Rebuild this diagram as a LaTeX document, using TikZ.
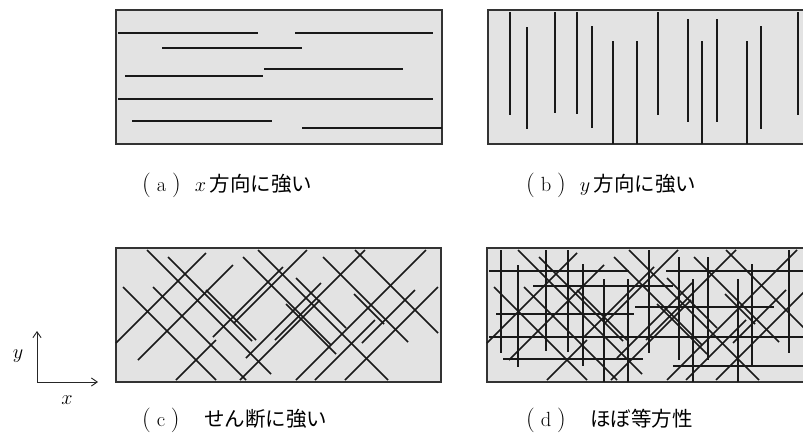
\documentclass[tikz,border=0pt]{standalone}
\usepackage{fontspec}
\newfontfamily\jpfont{Noto Sans CJK JP}
\usetikzlibrary{arrows.meta}

\tikzset{
  panel/.style={draw=black!80, line width=1.3pt, fill=black!11},
  fibre/.style={black!90, line width=1.25pt},
  axis/.style={black!85, line width=0.8pt, -{Straight Barb[length=5pt,width=7pt]}},
  caption/.style={anchor=west, inner sep=0pt, font=\fontsize{17.5}{21}\selectfont},
}
\newcommand{\paren}[1]{{\fontsize{21}{24}\selectfont(}\hspace{5pt}#1\hspace{5pt}{\fontsize{21}{24}\selectfont)}}

\begin{document}
\begin{tikzpicture}[x=0.03cm, y=-0.03cm]
  \useasboundingbox (0,0) rectangle (803,441);

  % Fibre sets, offsets from the top left corner of a panel
  \def\hfib{2/23/142, 179/23/317, 46/38/186, 148/59/287, 9/66/147, 2/89/317, 16/111/156, 186/118/326}
  \def\vfib{22/2/105, 39/17/119, 67/2/103, 89/2/104, 104/16/118, 125/31/134, 149/31/134,
    170/2/105, 200/9/112, 214/31/134, 229/9/112, 259/31/134, 273/16/119, 310/2/105}
  \def\dfib{31/2/124, 52/9/84, 7/39/93, 37/39/93, 90/42/50, 127/9/88, 142/2/130,
    180/30/50, 207/9/85, 239/2/83, 170/56/50, 238/46/30}
  \def\ufib{0/95/90, 22/112/95, 97/89/70, 124/132/80, 130/110/75, 159/92/90, 180/132/130,
    229/132/93, 246/95/53, 199/132/60, 118/75/73, 60/132/40}

  % (a) fibres along x
  \begin{scope}[shift={(116,10)}]
    \draw[panel] (0,0) rectangle (326,134);
    \foreach \xa/\ya/\xb in \hfib
      \draw[fibre] (\xa,\ya) -- (\xb,\ya);
  \end{scope}

  % (b) fibres along y
  \begin{scope}[shift={(488,10)}]
    \draw[panel] (0,0) rectangle (326,134);
    \foreach \xa/\ya/\yb in \vfib
      \draw[fibre] (\xa,\ya) -- (\xa,\yb);
  \end{scope}

  % (c) fibres at +-45 degrees
  \begin{scope}[shift={(116,248)}]
    \draw[panel] (0,0) rectangle (325,134);
    \foreach \xa/\ya/\len in \dfib
      \draw[fibre] (\xa,\ya) -- (\xa+\len,\ya+\len);
    \foreach \xa/\ya/\len in \ufib
      \draw[fibre] (\xa,\ya) -- (\xa+\len,\ya-\len);
  \end{scope}

  % (d) all of them together
  \begin{scope}[shift={(487,248)}]
    \draw[panel] (0,0) rectangle (326,134);
    \foreach \xa/\ya/\xb in \hfib
      \draw[fibre] (\xa,\ya) -- (\xb,\ya);
    \foreach \xa/\ya/\len in \dfib
      \draw[fibre] (\xa,\ya) -- (\xa+\len,\ya+\len);
    \foreach \xa/\ya/\len in \ufib
      \draw[fibre] (\xa,\ya) -- (\xa+\len,\ya-\len);
  \end{scope}
  \begin{scope}[shift={(479,248)}]
    \foreach \xa/\ya/\yb in \vfib
      \draw[fibre] (\xa,\ya) -- (\xa,\yb);
  \end{scope}

  % Axes
  \coordinate (org) at (37,382);
  \coordinate (ytip) at (37,331);
  \coordinate (xtip) at (98,382);
  \draw[axis] (org) -- (ytip);
  \draw[axis] (org) -- (xtip);
  \node[font=\fontsize{17}{20}\selectfont] (ylab) at (18,356) {$y$};
  \node[font=\fontsize{17}{20}\selectfont] (xlab) at (67,400) {$x$};

  % Captions
  \node[caption] (capa) at (142,185) {\paren{a}\hspace{12pt}$x$\,{\jpfont 方向に強い}};
  \node[caption] (capb) at (526,185) {\paren{b}\hspace{12pt}$y$\,{\jpfont 方向に強い}};
  \node[caption] (capc) at (142,420) {\paren{c}\hspace{21pt}{\jpfont せん断に強い}};
  \node[caption] (capd) at (526,420) {\paren{d}\hspace{21pt}{\jpfont ほぼ等方性}};
\end{tikzpicture}
\end{document}
